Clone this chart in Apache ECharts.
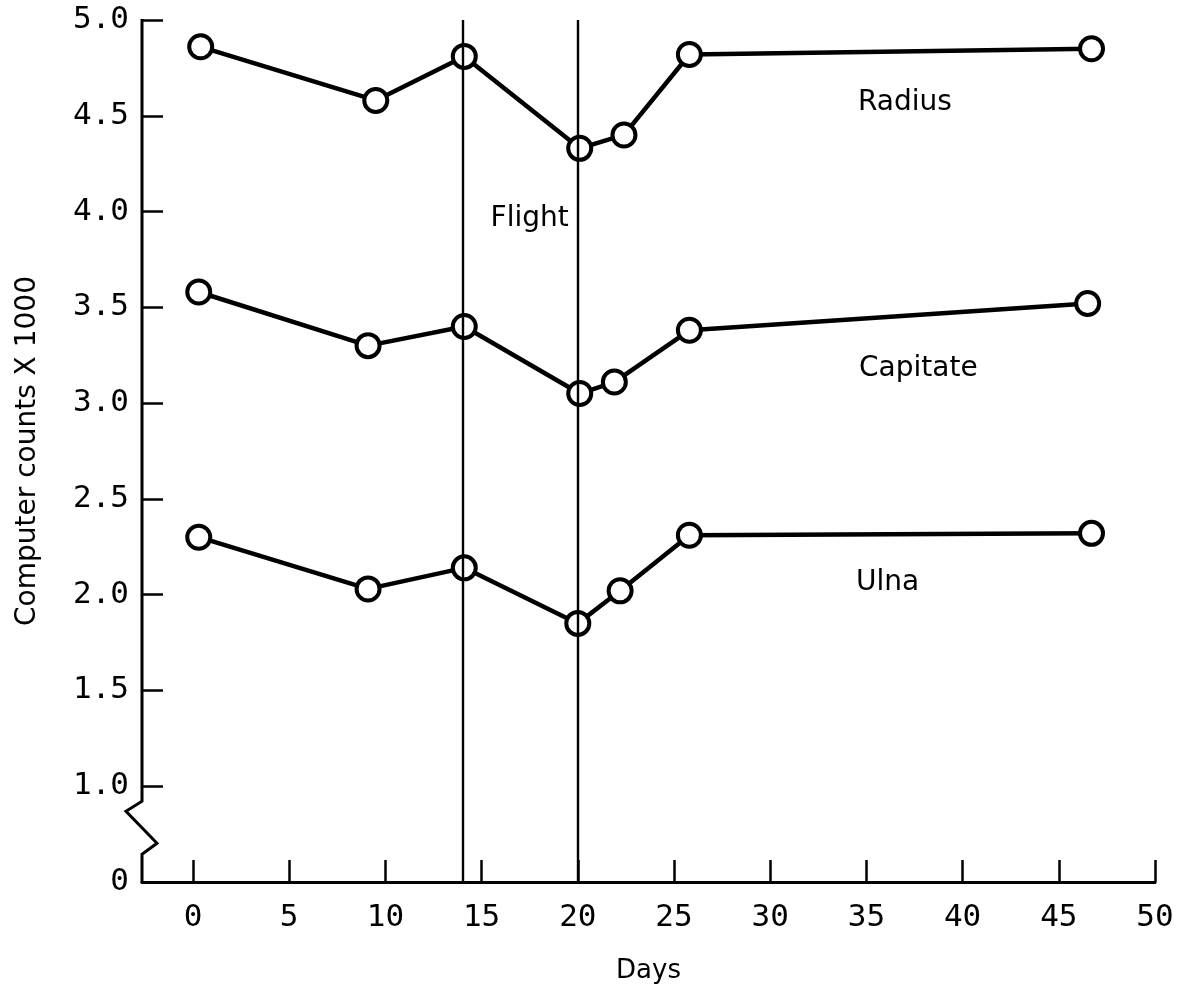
<!DOCTYPE html>
<html>
<head>
<meta charset="utf-8">
<title>Computer counts X 1000</title>
<script src="https://cdn.jsdelivr.net/npm/echarts@6/dist/echarts.min.js"></script>
<style>
  html, body { margin: 0; padding: 0; background: #ffffff; }
  #chart { width: 1178px; height: 998px; }
</style>
</head>
<body>
<div id="chart"></div>
<script>
// Bone density readings (computer counts x 1000) against mission day
const radiusDays     = [0.4, 9.5, 14.1, 20.1, 22.4, 25.8, 46.7];
const radiusValues   = [4.86, 4.58, 4.81, 4.33, 4.40, 4.82, 4.85];
const capitateDays   = [0.3, 9.1, 14.1, 20.1, 21.9, 25.8, 46.5];
const capitateValues = [3.58, 3.30, 3.40, 3.05, 3.11, 3.38, 3.52];
const ulnaDays       = [0.3, 9.1, 14.1, 20.0, 22.2, 25.8, 46.7];
const ulnaValues     = [2.30, 2.03, 2.14, 1.85, 2.02, 2.31, 2.32];

// Start and end of the flight period
const flightDays = [14.0, 20.0];

// Axis ticks
const dayTicks = [0, 5, 10, 15, 20, 25, 30, 35, 40, 45, 50];
const countMin = 0.5;   // shown as "0" below the axis break
const countMax = 5.0;
const countStep = 0.5;

const dayMin = -2.65;
const dayMax = 50;

const sansFont = '"DejaVu Sans", "Liberation Sans", sans-serif';
const monoFont = '"DejaVu Sans Mono", "Liberation Mono", monospace';

function pairs(xs, ys) {
  return xs.map((x, i) => [x, ys[i]]);
}

function measuredSeries(name, xs, ys) {
  return {
    name: name,
    type: 'line',
    data: pairs(xs, ys),
    z: 3,
    symbol: 'circle',
    symbolSize: 23,
    showAllSymbol: true,
    lineStyle: { color: '#000', width: 4.5 },
    itemStyle: { color: '#fff', borderColor: '#000', borderWidth: 4 },
    emphasis: { disabled: true },
    silent: true
  };
}

const chart = echarts.init(document.getElementById('chart'), null, { renderer: 'canvas' });

const option = {
  backgroundColor: '#ffffff',
  animation: false,
  grid: {
    left: 142, right: 23, top: 20, bottom: 116,
    containLabel: false,
    outerBoundsMode: 'none'
  },
  xAxis: {
    type: 'value',
    min: dayMin,
    max: dayMax,
    name: 'Days',
    nameLocation: 'middle',
    nameGap: 76,
    nameTextStyle: { fontFamily: sansFont, fontSize: 26, color: '#000' },
    axisLine: { show: true, onZero: false, lineStyle: { color: '#000', width: 3 } },
    axisTick: {
      show: true, inside: true, length: 22,
      customValues: dayTicks,
      lineStyle: { color: '#000', width: 2.5 }
    },
    axisLabel: {
      customValues: dayTicks,
      formatter: v => String(v),
      fontFamily: monoFont, fontSize: 31, color: '#000', margin: 20
    },
    splitLine: { show: false }
  },
  yAxis: {
    type: 'value',
    min: countMin,
    max: countMax,
    interval: countStep,
    name: 'Computer counts X 1000',
    nameLocation: 'middle',
    nameGap: 100,
    nameTextStyle: { fontFamily: sansFont, fontSize: 28, color: '#000' },
    axisLine: { show: false, onZero: false },
    axisTick: {
      show: true, inside: true, length: 21,
      lineStyle: { color: '#000', width: 2.5 }
    },
    axisLabel: {
      formatter: v => (Math.abs(v - countMin) < 1e-9 ? '0' : v.toFixed(1)),
      fontFamily: monoFont, fontSize: 31, color: '#000', margin: 13
    },
    splitLine: { show: false }
  },
  series: [
    {
      name: 'Flight',
      type: 'line',
      data: [],
      z: 1,
      silent: true,
      markLine: {
        silent: true,
        symbol: ['none', 'none'],
        label: { show: false },
        lineStyle: { color: '#000', width: 2.4, type: 'solid' },
        emphasis: { disabled: true },
        data: flightDays.map(d => ({ xAxis: d }))
      }
    },
    measuredSeries('Radius', radiusDays, radiusValues),
    measuredSeries('Capitate', capitateDays, capitateValues),
    measuredSeries('Ulna', ulnaDays, ulnaValues)
  ]
};

chart.setOption(option);

// Vertical axis line with the break between 1.0 and 0
const toPx = pt => chart.convertToPixel({ gridIndex: 0 }, pt);
const topPx = toPx([dayMin, countMax]);
const basePx = toPx([dayMin, countMin]);
const onePx = toPx([dayMin, 1.0]);
const x0 = topPx[0];
const b = onePx[1] + 15;

const graphics = [{
  type: 'polyline',
  silent: true,
  z: 10,
  shape: {
    points: [
      [x0, topPx[1] - 1],
      [x0, b],
      [x0 - 16, b + 10],
      [x0 + 15, b + 42],
      [x0, b + 53],
      [x0, basePx[1] + 1]
    ]
  },
  style: { stroke: '#000', lineWidth: 3, fill: null, lineJoin: 'miter' }
}];

// Curve names and the flight period caption, anchored in data space
const captions = [
  { text: 'Radius',   at: [37.0, 4.57] },
  { text: 'Capitate', at: [37.7, 3.18] },
  { text: 'Ulna',     at: [36.1, 2.06] },
  { text: 'Flight',   at: [17.5, 3.96] }
];
captions.forEach(c => {
  const p = toPx(c.at);
  graphics.push({
    type: 'text',
    silent: true,
    z: 10,
    x: p[0],
    y: p[1],
    style: {
      text: c.text,
      font: '28px ' + sansFont,
      fill: '#000',
      align: 'center',
      verticalAlign: 'middle',
      textAlign: 'center',
      textVerticalAlign: 'middle'
    }
  });
});

chart.setOption({ graphic: { elements: graphics } });
</script>
</body>
</html>
